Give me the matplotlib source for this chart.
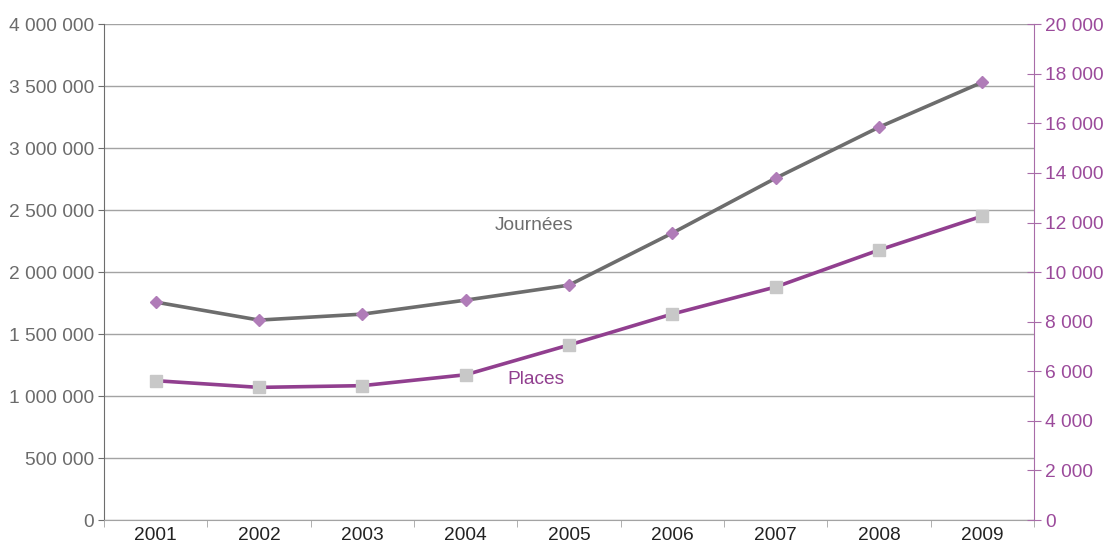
import matplotlib
matplotlib.use("Agg")
import matplotlib.pyplot as plt
from matplotlib.ticker import FuncFormatter, FixedLocator

plt.rcParams['font.family'] = ['Liberation Sans', 'DejaVu Sans']

years = ['2001', '2002', '2003', '2004', '2005', '2006', '2007', '2008', '2009']
journees = [1758000, 1613000, 1661000, 1774000, 1895000, 2315000, 2758000, 3169000, 3532000]
places = [5620, 5350, 5420, 5860, 7060, 8310, 9400, 10890, 12260]

grey = '#6d6d6d'
purple = '#913f8f'
fs = 13.8
x = list(range(len(years)))

def sp(v, pos):
    return '{:,}'.format(int(v)).replace(',', ' ')

fig = plt.figure(figsize=(11.07, 5.5), dpi=100)
ax = fig.add_axes([0.094, 0.0545, 0.84, 0.9015])
ax2 = ax.twinx()

ax.set_ylim(0, 4000000)
ax.set_yticks(range(0, 4000001, 500000))
ax.yaxis.set_major_formatter(FuncFormatter(sp))
ax.grid(axis='y', color='#a3a3a3', linewidth=1)
ax.set_axisbelow(True)
ax.set_xlim(-0.5, 8.5)
ax.set_xticks(x)
ax.set_xticklabels(years)
ax.xaxis.set_minor_locator(FixedLocator([i - 0.5 for i in range(10)]))
ax.tick_params(axis='x', which='major', length=0, labelsize=fs, labelcolor='#222222', pad=5)
ax.tick_params(axis='x', which='minor', length=5, color='#a3a3a3', direction='out')
ax.tick_params(axis='y', length=4, color='#6d6d6d', labelsize=fs, labelcolor='#6b6b6b', pad=3)

ax.plot(x, journees, color=grey, linewidth=2.6, marker='D', markersize=6.5,
        markerfacecolor='#b07cb8', markeredgecolor='#b07cb8', zorder=3)

ax2.set_ylim(0, 20000)
ax2.set_yticks(range(0, 20001, 2000))
ax2.yaxis.set_major_formatter(FuncFormatter(sp))
ax2.tick_params(axis='y', direction='inout', length=10, color='#a86ca8',
                labelsize=fs, labelcolor='#9b4a9b', pad=3)
ax2.plot(x, places, color=purple, linewidth=2.6, marker='s', markersize=8,
         markerfacecolor='#c8c8c8', markeredgecolor='#c8c8c8', zorder=3)

for a in (ax, ax2):
    a.spines['top'].set_visible(False)
ax.spines['right'].set_visible(False)
ax2.spines['left'].set_visible(False)
ax2.spines['bottom'].set_visible(False)
ax.spines['left'].set_color('#6d6d6d')
ax.spines['bottom'].set_color('#a3a3a3')
ax2.spines['right'].set_color('#a86ca8')

ax.text(3.66, 2375000, 'Journées', color=grey, fontsize=fs, ha='center', va='center')
ax.text(3.68, 1135000, 'Places', color=purple, fontsize=fs, ha='center', va='center')

fig.savefig('out.png', dpi=100)
